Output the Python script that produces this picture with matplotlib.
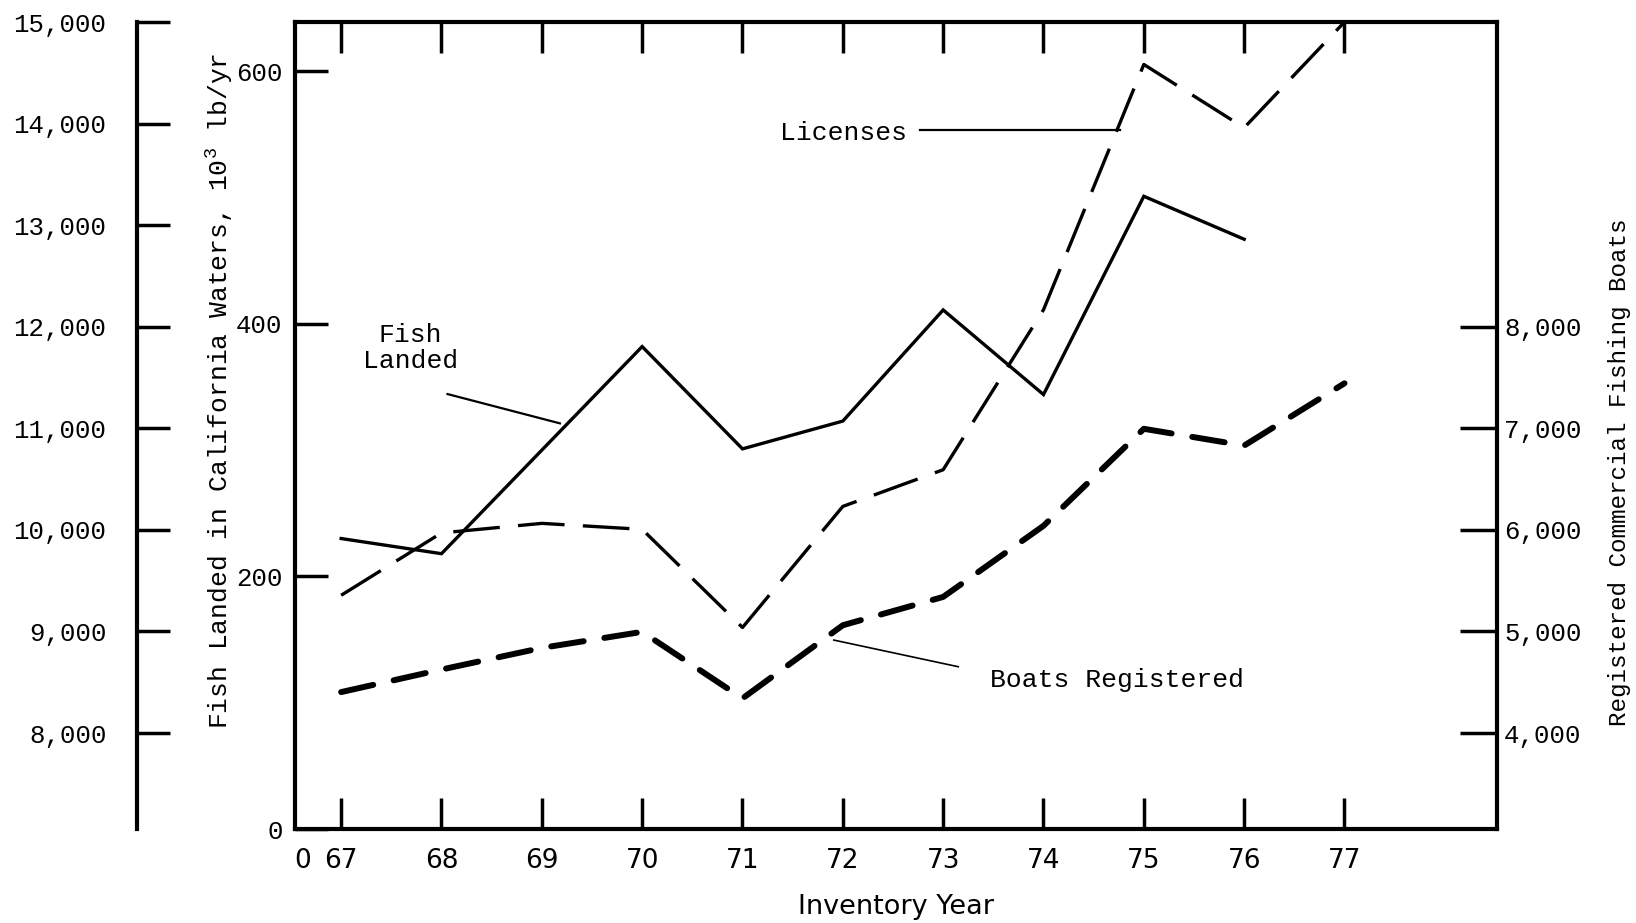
import matplotlib.pyplot as plt
from matplotlib.transforms import ScaledTranslation

# data
years = [67, 68, 69, 70, 71, 72, 73, 74, 75, 76, 77]
fish_years = [67, 68, 70, 71, 72, 73, 74, 75, 76]
fish_landed = [230, 218, 382, 301, 323, 411, 344, 501, 467]          # 10^3 lb/yr
licenses = [9356, 9970, 10064, 10005, 9039, 10231, 10592, 12167, 14582, 13959, 15000]
boats = [4403, 4625, 4838, 4996, 4341, 5061, 5340, 6040, 6995, 6830, 7443]

fish_ticks = [0, 200, 400, 600]
license_ticks = [8000, 9000, 10000, 11000, 12000, 13000, 14000, 15000]
boat_ticks = [4000, 5000, 6000, 7000, 8000]

mono = ['Liberation Mono', 'DejaVu Sans Mono']
narrow = ['Liberation Sans Narrow', 'DejaVu Sans']
plt.rcParams['font.family'] = mono
plt.rcParams['mathtext.default'] = 'regular'

fig = plt.figure(figsize=(16.36, 9.23), dpi=100)
ax = fig.add_axes([0.18032, 0.10184, 0.73472, 0.87432])
ax_lic = ax.twinx()
ax_boat = ax.twinx()

# lines
ax.plot(fish_years, fish_landed, color='black', lw=2.4, solid_joinstyle='miter')
ax_lic.plot(years, licenses, color='black', lw=2.4, dashes=(14, 5.5))
ax_boat.plot(years, boats, color='black', lw=4.3, dashes=(5.5, 3.5),
             dash_capstyle='round')

# main axis (fish landed)
ax.set_xlim(66.54, 78.52)
ax.set_xticks(years)
ax.set_xticklabels([str(y) for y in years], fontfamily=narrow, fontsize=19)
ax.tick_params(axis='x', direction='in', length=22, width=2.5, top=True, pad=14)
# lone "0" at the origin, no tick mark
ax.text(66.62, 0, '0', fontfamily=narrow, fontsize=19, ha='center', va='top',
        transform=ax.get_xaxis_transform()
        + ScaledTranslation(0, -14 / 72, fig.dpi_scale_trans))
ax.set_ylim(0, 639)
ax.set_yticks(fish_ticks)
ax.set_yticklabels([str(v) for v in fish_ticks])
ax.tick_params(axis='y', direction='in', length=24, width=2.5, pad=9, labelsize=18.5)
for s in ax.spines.values():
    s.set_linewidth(3)
ax.set_xlabel('Inventory Year', fontfamily=narrow, fontsize=19.5, labelpad=14)

# outer left axis (licenses)
ax_lic.set_ylim(7055, 15000)
ax_lic.set_yticks(license_ticks)
ax_lic.set_yticklabels([f'{v:,}' for v in license_ticks])
ax_lic.yaxis.set_ticks_position('left')
for k, s in ax_lic.spines.items():
    s.set_visible(k == 'left')
ax_lic.spines['left'].set_position(('axes', -0.13145))
ax_lic.spines['left'].set_linewidth(3)
ax_lic.tick_params(axis='y', direction='in', length=24, width=2.5, pad=22,
                   labelsize=18.5)

# right axis (boats)
ax_boat.set_ylim(3055, 11000)
ax_boat.set_yticks(boat_ticks)
ax_boat.set_yticklabels([f'{v:,}' for v in boat_ticks])
for k, s in ax_boat.spines.items():
    s.set_visible(False)
ax_boat.tick_params(axis='y', direction='in', length=26.5, width=2.5, pad=5,
                    labelsize=18.5)

# axis titles
fig.text(0.1339, 0.5764, 'Fish Landed in California Waters, 10$^3$ lb/yr',
         rotation=90, ha='center', va='center', fontsize=19)
fig.text(0.9902, 0.4886, 'Registered Commercial Fishing Boats',
         rotation=90, ha='center', va='center', fontsize=17.5)

# series labels with leader lines
ax.text(72.01, 551, 'Licenses', ha='center', va='center', fontsize=19)
ax.plot([72.77, 74.76], [553.5, 553.5], color='black', lw=1.6)
ax.text(67.69, 381, 'Fish\nLanded', ha='center', va='center', fontsize=19,
        linespacing=1.1)
ax.plot([68.06, 69.18], [344.4, 321.2], color='black', lw=1.6)
ax.text(74.73, 118, 'Boats Registered', ha='center', va='center', fontsize=19)
ax.plot([71.91, 73.15], [149.6, 128.5], color='black', lw=1.2)

fig.savefig('out.png', dpi=100)
